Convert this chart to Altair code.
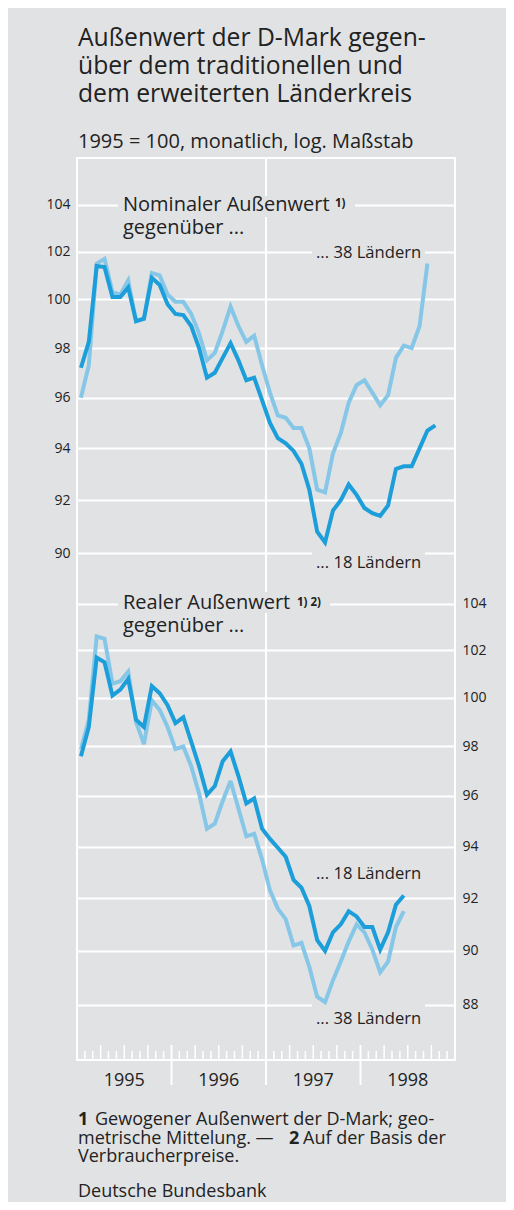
import altair as alt
import pandas as pd

# ---------------- data (1995 = 100, monthly, from January 1995) ----------------
nominal_18 = [97.2, 98.25, 101.4, 101.35, 100.1, 100.1, 100.5, 99.1, 99.2, 100.9, 100.6, 99.8,
              99.4, 99.35, 98.9, 98.0, 96.8, 97.0, 97.6, 98.2, 97.5, 96.7, 96.8, 95.9,
              95.0, 94.4, 94.2, 93.9, 93.4, 92.4, 90.8, 90.4, 91.6, 92.0, 92.6, 92.2,
              91.7, 91.5, 91.4, 91.8, 93.2, 93.3, 93.3, 94.0, 94.7, 94.9]
nominal_38 = [96.0, 97.3, 101.5, 101.7, 100.3, 100.2, 100.8, 99.1, 99.2, 101.1, 101.0, 100.2,
              99.9, 99.9, 99.4, 98.6, 97.5, 97.8, 98.7, 99.7, 98.9, 98.25, 98.5, 97.3,
              96.2, 95.3, 95.2, 94.8, 94.8, 94.0, 92.4, 92.3, 93.8, 94.6, 95.8, 96.5,
              96.7, 96.2, 95.7, 96.1, 97.6, 98.1, 98.0, 98.9, 101.5]
real_18 = [97.6, 98.8, 101.7, 101.5, 100.1, 100.35, 100.8, 99.1, 98.8, 100.5, 100.2, 99.7,
           98.96, 99.2, 98.2, 97.2, 96.05, 96.4, 97.4, 97.8, 96.8, 95.7, 95.9, 94.7,
           94.3, 93.95, 93.6, 92.7, 92.4, 91.7, 90.4, 90.0, 90.7, 91.0, 91.5, 91.3,
           90.9, 90.9, 90.05, 90.7, 91.75, 92.1]
real_38 = [97.9, 99.1, 102.6, 102.5, 100.6, 100.7, 101.1, 99.0, 98.1, 99.9, 99.5, 98.8,
           97.9, 98.0, 97.2, 96.1, 94.7, 94.9, 95.8, 96.6, 95.5, 94.4, 94.5, 93.5,
           92.3, 91.6, 91.2, 90.2, 90.3, 89.4, 88.3, 88.1, 88.9, 89.6, 90.35, 91.0,
           90.7, 90.05, 89.2, 89.6, 90.9, 91.5]
years = [1995, 1996, 1997, 1998]
nominal_ticks = [90, 92, 94, 96, 98, 100, 102, 104]
real_ticks = [88, 90, 92, 94, 96, 98, 100, 102, 104]

# ---------------- style ----------------
BG = "#e1e2e4"
DARK = "#1b9ed9"
LIGHT = "#86c7e7"
INK = "#222222"
FONT = "Open Sans"
W, H = 378, 902


def series_df(values):
    return pd.DataFrame({"month": list(range(len(values))), "value": values})


x_enc = alt.X("pos:Q", scale=alt.Scale(domain=[0, 48], nice=False, zero=False), axis=None)


def y_enc(domain, ticks, orient):
    return alt.Y(
        "value:Q",
        scale=alt.Scale(type="log", domain=domain, nice=False),
        axis=alt.Axis(orient=orient, values=ticks, format="d", grid=True, gridColor="white",
                      gridWidth=2, gridOpacity=1, domain=False, ticks=False, labelPadding=7,
                      labelFont=FONT, labelFontSize=14, labelColor=INK, labelOverlap=False,
                      labelBound=False, title=None),
    )


def line(values, color, y):
    return (alt.Chart(series_df(values))
            .transform_calculate(pos="datum.month + 0.5")
            .mark_line(color=color, strokeWidth=4, strokeJoin="miter", strokeMiterLimit=3)
            .encode(x=x_enc, y=y))


y_top = y_enc([72.91, 106.05], nominal_ticks, "left")
y_bot = y_enc([86.0, 125.23], real_ticks, "right")

top_group = alt.layer(line(nominal_38, LIGHT, y_top), line(nominal_18, DARK, y_top))
bot_group = alt.layer(line(real_38, LIGHT, y_bot), line(real_18, DARK, y_bot))

ONE = pd.DataFrame({"k": [0]})


def txt(text, x, y, size, weight="normal", align="left"):
    return (alt.Chart(ONE)
            .mark_text(text=text, font=FONT, fontSize=size, fontWeight=weight, align=align,
                       baseline="alphabetic", color=INK)
            .encode(x=alt.value(x), y=alt.value(y)))


def bgrect(x1, x2, y1, y2):
    return (alt.Chart(ONE).mark_rect(color=BG)
            .encode(x=alt.value(x1), x2=alt.value(x2), y=alt.value(y1), y2=alt.value(y2)))


# x-axis furniture: monthly ticks, quarterly ticks, year separators, 1997 line
month_df = pd.DataFrame({"pos": list(range(1, 48))})
month_ticks = (alt.Chart(month_df).transform_filter("datum.pos % 3 != 0")
               .mark_rule(color="white", strokeWidth=1.5)
               .encode(x=x_enc, y=alt.value(H - 9), y2=alt.value(H)))
quarter_ticks = (alt.Chart(month_df).transform_filter("datum.pos % 3 == 0 && datum.pos % 12 != 0")
                 .mark_rule(color="white", strokeWidth=1.5)
                 .encode(x=x_enc, y=alt.value(H - 15), y2=alt.value(H)))
year_df = pd.DataFrame({"year": years})
year_seps = (alt.Chart(year_df).transform_filter("datum.year > 1995")
             .transform_calculate(pos="(datum.year - 1995) * 12")
             .mark_rule(color="white", strokeWidth=2)
             .encode(x=x_enc, y=alt.value(H - 15), y2=alt.value(H + 25)))
line_1997 = (alt.Chart(year_df).transform_filter("datum.year == 1997")
             .transform_calculate(pos="(datum.year - 1995) * 12")
             .mark_rule(color="white", strokeWidth=2)
             .encode(x=x_enc, y=alt.value(0), y2=alt.value(H)))
year_labels = (alt.Chart(year_df)
               .transform_calculate(pos="(datum.year - 1995) * 12 + 6", label="'' + datum.year")
               .mark_text(font=FONT, fontSize=18, color=INK, align="center", baseline="alphabetic")
               .encode(x=x_enc, y=alt.value(H + 26), text="label:N"))

rects = [
    bgrect(41, 278, 38, 59),     # Nominaler Außenwert
    bgrect(235, 348, 86, 104),   # ... 38 Ländern (top)
    bgrect(235, 348, 392, 414),  # ... 18 Ländern (top)
    bgrect(41, 253, 434, 455),   # Realer Außenwert
    bgrect(235, 348, 843, 872),  # ... 38 Ländern (bottom)
]

texts = [
    txt("Außenwert der D-Mark gegen-", 1, -112, 24.7),
    txt("über dem traditionellen und", 1, -84, 24.7),
    txt("dem erweiterten Länderkreis", 1, -56, 24.7),
    txt("1995 = 100, monatlich, log. Maßstab", 1, -10, 20),
    txt("Nominaler Außenwert", 46, 52.5, 20),
    txt("1)", 258, 49, 11.5, "bold"),
    txt("gegenüber ...", 46, 75.5, 20),
    txt("... 38 Ländern", 239, 100, 16.6),
    txt("... 18 Ländern", 239, 410, 16.6),
    txt("Realer Außenwert", 46, 451, 20),
    txt("1) 2)", 220, 448, 11.5, "bold"),
    txt("gegenüber ...", 46, 474, 20),
    txt("... 18 Ländern", 239, 721, 16.6),
    txt("... 38 Ländern", 239, 866, 16.6),
    txt("1", 1, 967, 18, "bold"),
    txt("Gewogener Außenwert der D-Mark; geo-", 18, 967, 18),
    txt("metrische Mittelung. —", 1, 986, 18),
    txt("2", 212, 986, 18, "bold"),
    txt("Auf der Basis der", 226, 986, 18),
    txt("Verbraucherpreise.", 1, 1004, 18),
    txt("Deutsche Bundesbank", 1, 1039, 18),
]

chart = (
    alt.layer(line_1997, month_ticks, quarter_ticks, year_seps, *rects,
              top_group, bot_group, year_labels, *texts)
    .resolve_scale(y="independent")
    .properties(width=W, height=H, autosize="none",
                padding={"left": 69, "top": 150, "right": 51, "bottom": 142},
                background=BG)
    .configure_view(stroke="white", strokeWidth=2)
)

chart.save("out.html", embed_options={"renderer": "svg", "actions": False})
